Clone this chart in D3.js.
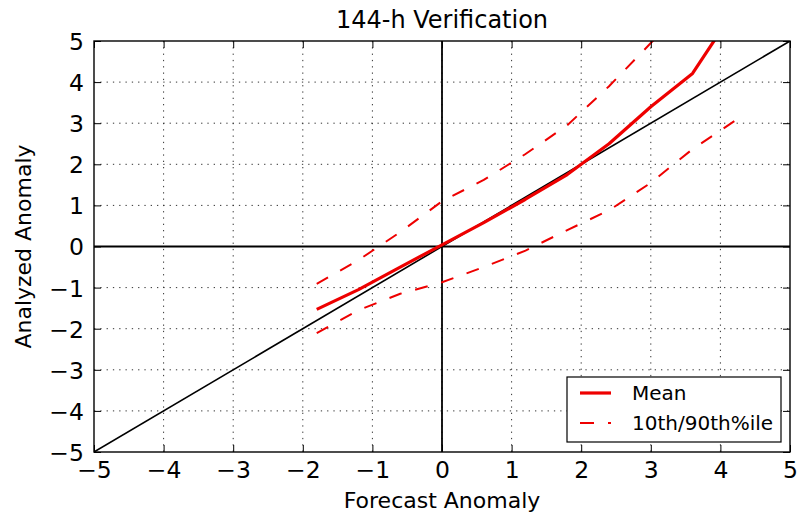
<!DOCTYPE html>
<html>
<head>
<meta charset="utf-8">
<script src="https://cdn.jsdelivr.net/npm/d3@7"></script>
<style>
  body { margin: 0; background: #fff; }
  svg { display: block; font-family: "DejaVu Sans", sans-serif; }
</style>
</head>
<body>
<svg id="chart" width="803" height="516"></svg>
<script>
// Forecast anomaly bins and verification statistics
const forecastBins = [-1.8, -1.2, -0.6, 0, 0.6, 1.2, 1.8, 2.4, 3.0, 3.6, 4.2];
const meanValues   = [-1.53, -1.05, -0.50, 0.04, 0.58, 1.15, 1.75, 2.50, 3.40, 4.21, 5.75];
const p90Values    = [-0.91, -0.33, 0.35, 1.10, 1.62, 2.25, 2.95, 3.90, 4.95, 6.00, null];
const p10Values    = [-2.11, -1.55, -1.15, -0.87, -0.50, -0.10, 0.40, 0.88, 1.55, 2.37, 3.05];
const tickValues   = [-5, -4, -3, -2, -1, 0, 1, 2, 3, 4, 5];

const svg = d3.select("#chart");
const W = 803, H = 516;
const m = { left: 94, right: 13, top: 41, bottom: 64 };
const iw = W - m.left - m.right, ih = H - m.top - m.bottom;

const x = d3.scaleLinear().domain([-5, 5]).range([m.left, m.left + iw]);
const y = d3.scaleLinear().domain([-5, 5]).range([m.top + ih, m.top]);
const fmt = d => d < 0 ? "\u2212" + Math.abs(d) : String(d);

svg.append("defs").append("clipPath").attr("id", "plot-clip")
  .append("rect").attr("x", m.left).attr("y", m.top).attr("width", iw).attr("height", ih);

// dotted grid
const grid = svg.append("g").attr("stroke", "#333").attr("stroke-width", 1)
  .attr("stroke-dasharray", "1.3,5");
tickValues.slice(1, -1).forEach(t => {
  grid.append("line").attr("x1", x(t)).attr("x2", x(t)).attr("y1", m.top).attr("y2", m.top + ih);
  grid.append("line").attr("y1", y(t)).attr("y2", y(t)).attr("x1", m.left).attr("x2", m.left + iw);
});

const plot = svg.append("g").attr("clip-path", "url(#plot-clip)");

// zero lines and 1:1 reference
plot.append("line").attr("x1", x(0)).attr("x2", x(0)).attr("y1", y(-5)).attr("y2", y(5))
  .attr("stroke", "#000").attr("stroke-width", 1.8);
plot.append("line").attr("x1", x(-5)).attr("x2", x(5)).attr("y1", y(0)).attr("y2", y(0))
  .attr("stroke", "#000").attr("stroke-width", 1.8);
plot.append("line").attr("x1", x(-5)).attr("x2", x(5)).attr("y1", y(-5)).attr("y2", y(5))
  .attr("stroke", "#000").attr("stroke-width", 1.6);

const line = d3.line()
  .defined(d => d[1] !== null)
  .x(d => x(d[0])).y(d => y(d[1]));

const pairs = vals => forecastBins.map((f, i) => [f, vals[i]]);

plot.append("path").datum(pairs(p90Values)).attr("d", line)
  .attr("fill", "none").attr("stroke", "#ee0000").attr("stroke-width", 2)
  .attr("stroke-dasharray", "13,14");
plot.append("path").datum(pairs(p10Values)).attr("d", line)
  .attr("fill", "none").attr("stroke", "#ee0000").attr("stroke-width", 2)
  .attr("stroke-dasharray", "13,14");
plot.append("path").datum(pairs(meanValues)).attr("d", line)
  .attr("fill", "none").attr("stroke", "#ee0000").attr("stroke-width", 3.2)
  .attr("stroke-linejoin", "round");

// axes with inward ticks on all sides
const tickLen = 7;
const axB = svg.append("g").attr("transform", `translate(0,${m.top + ih})`)
  .call(d3.axisBottom(x).tickValues(tickValues).tickSize(-tickLen).tickPadding(9).tickFormat(fmt));
const axT = svg.append("g").attr("transform", `translate(0,${m.top})`)
  .call(d3.axisTop(x).tickValues(tickValues).tickSize(-tickLen).tickFormat(""));
const axL = svg.append("g").attr("transform", `translate(${m.left},0)`)
  .call(d3.axisLeft(y).tickValues(tickValues).tickSize(-tickLen).tickPadding(10).tickFormat(fmt));
const axR = svg.append("g").attr("transform", `translate(${m.left + iw},0)`)
  .call(d3.axisRight(y).tickValues(tickValues).tickSize(-tickLen).tickFormat(""));
[axB, axT, axL, axR].forEach(a => {
  a.select(".domain").remove();
  a.selectAll(".tick line").attr("stroke", "#000").attr("stroke-width", 1);
  a.selectAll(".tick text").attr("font-size", 23.5).attr("fill", "#000")
    .attr("font-family", "DejaVu Sans, sans-serif");
});
axL.selectAll(".tick text").attr("dy", "0.36em");

svg.append("rect").attr("x", m.left).attr("y", m.top).attr("width", iw).attr("height", ih)
  .attr("fill", "none").attr("stroke", "#000").attr("stroke-width", 1.4);

// titles
svg.append("text").attr("x", x(0)).attr("y", 28).attr("text-anchor", "middle")
  .attr("font-size", 24).text("144-h Verification");
svg.append("text").attr("x", x(0)).attr("y", 508).attr("text-anchor", "middle")
  .attr("font-size", 22).text("Forecast Anomaly");
svg.append("text").attr("transform", `translate(31,${y(0)}) rotate(-90)`)
  .attr("text-anchor", "middle").attr("font-size", 22).text("Analyzed Anomaly");

// legend
const lg = svg.append("g");
lg.append("rect").attr("x", 567).attr("y", 377).attr("width", 214).attr("height", 65)
  .attr("fill", "#fff").attr("stroke", "#000").attr("stroke-width", 1.2);
const legendItems = [
  { label: "Mean", width: 3.2, dash: null, y: 393 },
  { label: "10th/90th%ile", width: 2, dash: "14,14", y: 423 }
];
legendItems.forEach(it => {
  lg.append("line").attr("x1", 580).attr("x2", 611).attr("y1", it.y).attr("y2", it.y)
    .attr("stroke", "#ee0000").attr("stroke-width", it.width)
    .attr("stroke-dasharray", it.dash);
  lg.append("text").attr("x", 632).attr("y", it.y).attr("dy", "0.36em")
    .attr("font-size", 20).text(it.label);
});
</script>
</body>
</html>
